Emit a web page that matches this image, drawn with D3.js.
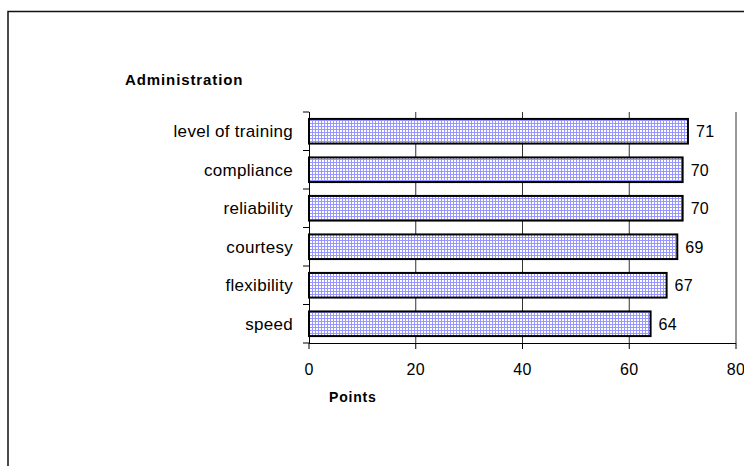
<!DOCTYPE html>
<html lang="en">
<head>
	<meta charset="UTF-8">
	<title>Administration</title>
	<script src="https://d3js.org/d3.v7.min.js"></script>
</head>
<body style="margin:0;background:#fff;">

<style>
text {
  font-family: "Liberation Sans", Arial, sans-serif;
  fill: #000;
}
.cat-label {
  font-size: 17px;
  letter-spacing: 0.3px;
}
.val-label, .tick-label {
  font-size: 16px;
  letter-spacing: 0.3px;
}
.title {
  font-size: 15px;
  font-weight: bold;
  letter-spacing: 0.9px;
}
.axis-title {
  font-size: 14px;
  font-weight: bold;
  letter-spacing: 0.8px;
}
</style>

<svg width="744" height="466"></svg>

<script>
var categories = ["level of training", "compliance", "reliability", "courtesy", "flexibility", "speed"];
var values = [71, 70, 70, 69, 67, 64];
var xTicks = [0, 20, 40, 60, 80];

var svg = d3.select("svg");

// chart frame (cut off at right and bottom)
svg.append("rect")
    .attr("x", 8)
    .attr("y", 11.5)
    .attr("width", 900)
    .attr("height", 600)
    .attr("fill", "white")
    .attr("stroke", "#111")
    .attr("stroke-width", 1.5);

// grid fill for the bars
var pat = svg.append("defs").append("pattern")
    .attr("id", "grid")
    .attr("width", 3)
    .attr("height", 3)
    .attr("patternUnits", "userSpaceOnUse");
pat.append("rect").attr("width", 3).attr("height", 3).attr("fill", "#9797ff");
pat.append("rect").attr("x", 1).attr("y", 1).attr("width", 2).attr("height", 2).attr("fill", "white");

var plotLeft = 309, plotTop = 112, plotRight = 736, plotBottom = 343;

var x = d3.scaleLinear()
    .domain([0, 80])
    .range([plotLeft, plotRight]);

var y = d3.scaleBand()
    .domain(categories)
    .range([plotTop, plotBottom])
    .paddingInner(0.36)
    .paddingOuter(0.18);

// vertical gridlines
svg.append("g")
  .selectAll("line")
  .data(xTicks.slice(1))
  .enter().append("line")
    .attr("x1", function(d) { return x(d); })
    .attr("x2", function(d) { return x(d); })
    .attr("y1", plotTop)
    .attr("y2", plotBottom)
    .attr("stroke", "#333")
    .attr("stroke-width", 1);

// bars
svg.append("g")
  .selectAll("rect")
  .data(values)
  .enter().append("rect")
    .attr("x", x(0))
    .attr("y", function(d, i) { return y(categories[i]); })
    .attr("width", function(d) { return x(d) - x(0); })
    .attr("height", y.bandwidth())
    .attr("fill", "url(#grid)")
    .attr("stroke", "#000")
    .attr("stroke-width", 2);

// value labels
svg.append("g")
  .selectAll("text")
  .data(values)
  .enter().append("text")
    .attr("class", "val-label")
    .attr("x", function(d) { return x(d) + 8; })
    .attr("y", function(d, i) { return y(categories[i]) + y.bandwidth() / 2; })
    .attr("dy", "0.36em")
    .text(function(d) { return d; });

// y axis
var yAxis = svg.append("g");
yAxis.append("line")
    .attr("x1", plotLeft + 0.5).attr("x2", plotLeft + 0.5)
    .attr("y1", plotTop).attr("y2", plotBottom)
    .attr("stroke", "#000");
var bounds = d3.range(categories.length + 1).map(function(i) {
  return plotTop + (plotBottom - plotTop) * i / categories.length;
});
yAxis.selectAll(".tk")
  .data(bounds)
  .enter().append("line")
    .attr("x1", plotLeft - 6).attr("x2", plotLeft)
    .attr("y1", function(d) { return d; })
    .attr("y2", function(d) { return d; })
    .attr("stroke", "#000");
yAxis.selectAll("text")
  .data(categories)
  .enter().append("text")
    .attr("class", "cat-label")
    .attr("x", plotLeft - 16)
    .attr("y", function(d) { return y(d) + y.bandwidth() / 2; })
    .attr("dy", "0.36em")
    .attr("text-anchor", "end")
    .text(function(d) { return d; });

// x axis
var xAxis = svg.append("g");
xAxis.append("line")
    .attr("x1", plotLeft).attr("x2", plotRight)
    .attr("y1", plotBottom + 0.5).attr("y2", plotBottom + 0.5)
    .attr("stroke", "#000");
xAxis.selectAll(".tk")
  .data(xTicks)
  .enter().append("line")
    .attr("x1", function(d) { return x(d); })
    .attr("x2", function(d) { return x(d); })
    .attr("y1", plotBottom)
    .attr("y2", plotBottom + 6)
    .attr("stroke", "#000");
xAxis.selectAll("text")
  .data(xTicks)
  .enter().append("text")
    .attr("class", "tick-label")
    .attr("x", function(d) { return x(d); })
    .attr("y", 375)
    .attr("text-anchor", "middle")
    .text(function(d) { return d; });

// titles
svg.append("text")
    .attr("class", "title")
    .attr("x", 125)
    .attr("y", 85)
    .text("Administration");

svg.append("text")
    .attr("class", "axis-title")
    .attr("x", 329)
    .attr("y", 402)
    .text("Points");
</script>
</body>
</html>
